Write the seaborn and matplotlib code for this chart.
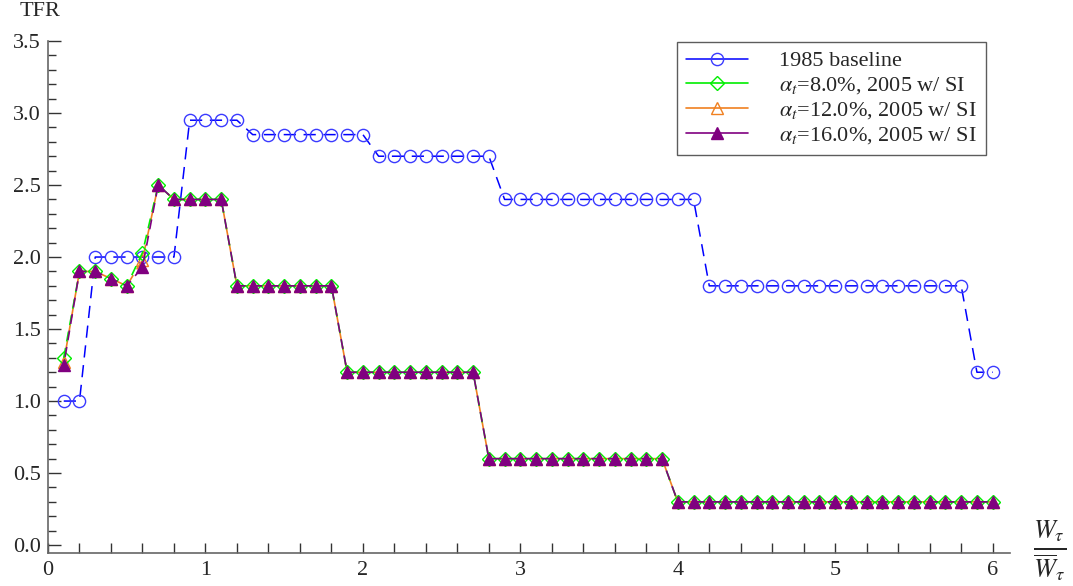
import matplotlib
matplotlib.use("Agg")
import matplotlib.pyplot as plt
from matplotlib.ticker import MultipleLocator, FormatStrFormatter
import seaborn as sns
import pandas as pd

# ---------------- data ----------------
x = [0.1, 0.2, 0.3, 0.4, 0.5, 0.6, 0.7, 0.8, 0.9, 1.0,
     1.1, 1.2, 1.3, 1.4, 1.5, 1.6, 1.7, 1.8, 1.9, 2.0,
     2.1, 2.2, 2.3, 2.4, 2.5, 2.6, 2.7, 2.8, 2.9, 3.0,
     3.1, 3.2, 3.3, 3.4, 3.5, 3.6, 3.7, 3.8, 3.9, 4.0,
     4.1, 4.2, 4.3, 4.4, 4.5, 4.6, 4.7, 4.8, 4.9, 5.0,
     5.1, 5.2, 5.3, 5.4, 5.5, 5.6, 5.7, 5.8, 5.9, 6.0]

baseline_1985 = [1.0, 1.0, 2.0, 2.0, 2.0, 2.0, 2.0, 2.0, 2.95, 2.95,
                 2.95, 2.95, 2.85, 2.85, 2.85, 2.85, 2.85, 2.85, 2.85, 2.85,
                 2.7, 2.7, 2.7, 2.7, 2.7, 2.7, 2.7, 2.7, 2.4, 2.4,
                 2.4, 2.4, 2.4, 2.4, 2.4, 2.4, 2.4, 2.4, 2.4, 2.4,
                 2.4, 1.8, 1.8, 1.8, 1.8, 1.8, 1.8, 1.8, 1.8, 1.8,
                 1.8, 1.8, 1.8, 1.8, 1.8, 1.8, 1.8, 1.8, 1.2, 1.2]

alpha_08 = [1.30, 1.9, 1.9, 1.85, 1.8, 2.03, 2.5, 2.4, 2.4, 2.4,
            2.4, 1.8, 1.8, 1.8, 1.8, 1.8, 1.8, 1.8, 1.2, 1.2,
            1.2, 1.2, 1.2, 1.2, 1.2, 1.2, 1.2, 0.6, 0.6, 0.6,
            0.6, 0.6, 0.6, 0.6, 0.6, 0.6, 0.6, 0.6, 0.6, 0.3,
            0.3, 0.3, 0.3, 0.3, 0.3, 0.3, 0.3, 0.3, 0.3, 0.3,
            0.3, 0.3, 0.3, 0.3, 0.3, 0.3, 0.3, 0.3, 0.3, 0.3]

alpha_12 = [1.27, 1.9, 1.9, 1.85, 1.8, 1.98, 2.5, 2.4, 2.4, 2.4,
            2.4, 1.8, 1.8, 1.8, 1.8, 1.8, 1.8, 1.8, 1.2, 1.2,
            1.2, 1.2, 1.2, 1.2, 1.2, 1.2, 1.2, 0.6, 0.6, 0.6,
            0.6, 0.6, 0.6, 0.6, 0.6, 0.6, 0.6, 0.6, 0.6, 0.3,
            0.3, 0.3, 0.3, 0.3, 0.3, 0.3, 0.3, 0.3, 0.3, 0.3,
            0.3, 0.3, 0.3, 0.3, 0.3, 0.3, 0.3, 0.3, 0.3, 0.3]

alpha_16 = [1.25, 1.9, 1.9, 1.85, 1.8, 1.93, 2.5, 2.4, 2.4, 2.4,
            2.4, 1.8, 1.8, 1.8, 1.8, 1.8, 1.8, 1.8, 1.2, 1.2,
            1.2, 1.2, 1.2, 1.2, 1.2, 1.2, 1.2, 0.6, 0.6, 0.6,
            0.6, 0.6, 0.6, 0.6, 0.6, 0.6, 0.6, 0.6, 0.6, 0.3,
            0.3, 0.3, 0.3, 0.3, 0.3, 0.3, 0.3, 0.3, 0.3, 0.3,
            0.3, 0.3, 0.3, 0.3, 0.3, 0.3, 0.3, 0.3, 0.3, 0.3]

labels = ["1985 baseline",
          r"$\alpha_t$=8.0%, 2005 w/ SI",
          r"$\alpha_t$=12.0%, 2005 w/ SI",
          r"$\alpha_t$=16.0%, 2005 w/ SI"]

x_ticks = [0, 1, 2, 3, 4, 5, 6]
y_ticks = [0.0, 0.5, 1.0, 1.5, 2.0, 2.5, 3.0, 3.5]

# ---------------- style ----------------
sns.set_style("ticks")
plt.rcParams["font.family"] = ["Liberation Serif", "DejaVu Serif"]
plt.rcParams["mathtext.fontset"] = "stix"

fig = plt.figure(figsize=(10.73, 5.86), dpi=100)
ax = fig.add_axes([48 / 1073, 1 - 553 / 586, 962 / 1073, 512 / 586])

df = pd.DataFrame({"x": x, "b": baseline_1985, "a8": alpha_08,
                   "a12": alpha_12, "a16": alpha_16})

sns.lineplot(data=df, x="x", y="b", ax=ax, errorbar=None, sort=False,
             color="blue", linewidth=1.1, linestyle=(0, (8, 5)),
             marker="o", markersize=8.8, markerfacecolor="none",
             markeredgecolor="#3a3aff", markeredgewidth=1.0,
             label=labels[0], zorder=2)
sns.lineplot(data=df, x="x", y="a8", ax=ax, errorbar=None, sort=False,
             color="#00ee00", linewidth=1.2, linestyle=(0, (6, 4)),
             marker="D", markersize=7, markerfacecolor="none",
             markeredgecolor="#00ee00", markeredgewidth=1.0,
             label=labels[1], zorder=3)
sns.lineplot(data=df, x="x", y="a12", ax=ax, errorbar=None, sort=False,
             color="#f08020", linewidth=1.2, linestyle=(3, (6, 4)),
             marker="^", markersize=9, markerfacecolor="none",
             markeredgecolor="#f08020", markeredgewidth=1.0,
             label=labels[2], zorder=2.5)
sns.lineplot(data=df, x="x", y="a16", ax=ax, errorbar=None, sort=False,
             color="#800080", linewidth=1.2, linestyle=(5, (6, 4)),
             marker="^", markersize=9, markerfacecolor="#800080",
             markeredgecolor="#800080", markeredgewidth=1.0,
             label=labels[3], zorder=4)

# ---------------- axes ----------------
ax.set_xlim(0, 6.11)
ax.set_ylim(-0.055, 3.5)
ax.set_xlabel("")
ax.set_ylabel("")
for s in ["top", "right"]:
    ax.spines[s].set_visible(False)
for s in ["left", "bottom"]:
    ax.spines[s].set_color("#666666")
    ax.spines[s].set_linewidth(1.2)
ax.spines["left"].set_bounds(-0.055, 3.5)

ax.set_xticks(x_ticks)
ax.set_xticklabels([str(t) for t in x_ticks])
ax.xaxis.set_minor_locator(MultipleLocator(0.2))
ax.set_yticks(y_ticks)
ax.yaxis.set_major_formatter(FormatStrFormatter("%.1f"))
ax.yaxis.set_minor_locator(MultipleLocator(0.1))

ax.tick_params(axis="x", which="both", direction="in", length=7, width=1.0,
               color="#333333", labelsize=16, pad=6)
ax.tick_params(axis="y", which="major", direction="in", length=9, width=1.0,
               color="#333333", labelsize=16, pad=5)
ax.tick_params(axis="y", which="minor", direction="in", length=6, width=1.0,
               color="#333333")

fig.text(40 / 1073, 1 - 12 / 586, "TFR", ha="center", va="center", fontsize=16)
fig.text(1050 / 1073, 1 - 551 / 586, r"$\frac{W_\tau}{\overline{W}_\tau}$",
         ha="center", va="center", fontsize=27)

handles, labs = ax.get_legend_handles_labels()
leg = ax.legend(handles, labs, loc="upper left",
                bbox_to_anchor=(0.654, 0.998), borderaxespad=0.0,
                fontsize=16, frameon=True,
                fancybox=False, edgecolor="#333333", handlelength=2.8,
                handletextpad=1.4, borderpad=0.4, labelspacing=0.18)
leg.get_frame().set_linewidth(1.0)
for h in leg.get_lines():
    h.set_linestyle("-")

fig.savefig("out.png", dpi=100)
